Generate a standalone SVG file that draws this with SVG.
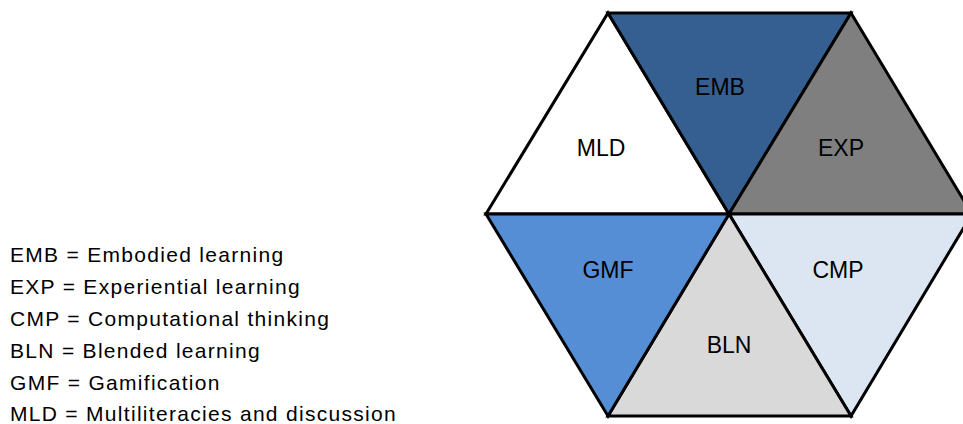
<svg xmlns="http://www.w3.org/2000/svg" width="963" height="424" viewBox="0 0 963 424">
<style>
.tri{stroke:#000;stroke-width:3;stroke-linejoin:miter}
.lbl{font-family:"Liberation Sans",Arial,sans-serif;font-size:23px;fill:#000;text-anchor:middle}
.leg{font-family:"Liberation Sans",Arial,sans-serif;font-size:21px;letter-spacing:1.3px;fill:#000}
</style>
<rect width="963" height="424" fill="#fff"/>
<g id="MLD"><polygon class="tri" points="486,214 608,13 729,214" fill="#fff"/><text class="lbl" x="601" y="156">MLD</text></g>
<g id="EMB"><polygon class="tri" points="608,13 851,13 729,214" fill="#355F91"/><text class="lbl" x="720" y="95">EMB</text></g>
<g id="EXP"><polygon class="tri" points="851,13 972,214 729,214" fill="#7F7F7F"/><text class="lbl" x="841" y="156">EXP</text></g>
<g id="CMP"><polygon class="tri" points="972,214 851,416 729,214" fill="#DCE6F2"/><text class="lbl" x="838" y="278">CMP</text></g>
<g id="BLN"><polygon class="tri" points="851,416 608,416 729,214" fill="#D9D9D9"/><text class="lbl" x="729" y="353">BLN</text></g>
<g id="GMF"><polygon class="tri" points="608,416 486,214 729,214" fill="#558ED5"/><text class="lbl" x="608" y="278">GMF</text></g>
<g id="legend">
<text class="leg" x="10" y="262">EMB = Embodied learning</text>
<text class="leg" x="10" y="294">EXP = Experiential learning</text>
<text class="leg" x="10" y="326">CMP = Computational thinking</text>
<text class="leg" x="10" y="358">BLN = Blended learning</text>
<text class="leg" x="10" y="390">GMF = Gamification</text>
<text class="leg" x="10" y="421">MLD = Multiliteracies and discussion</text>
</g>
</svg>
